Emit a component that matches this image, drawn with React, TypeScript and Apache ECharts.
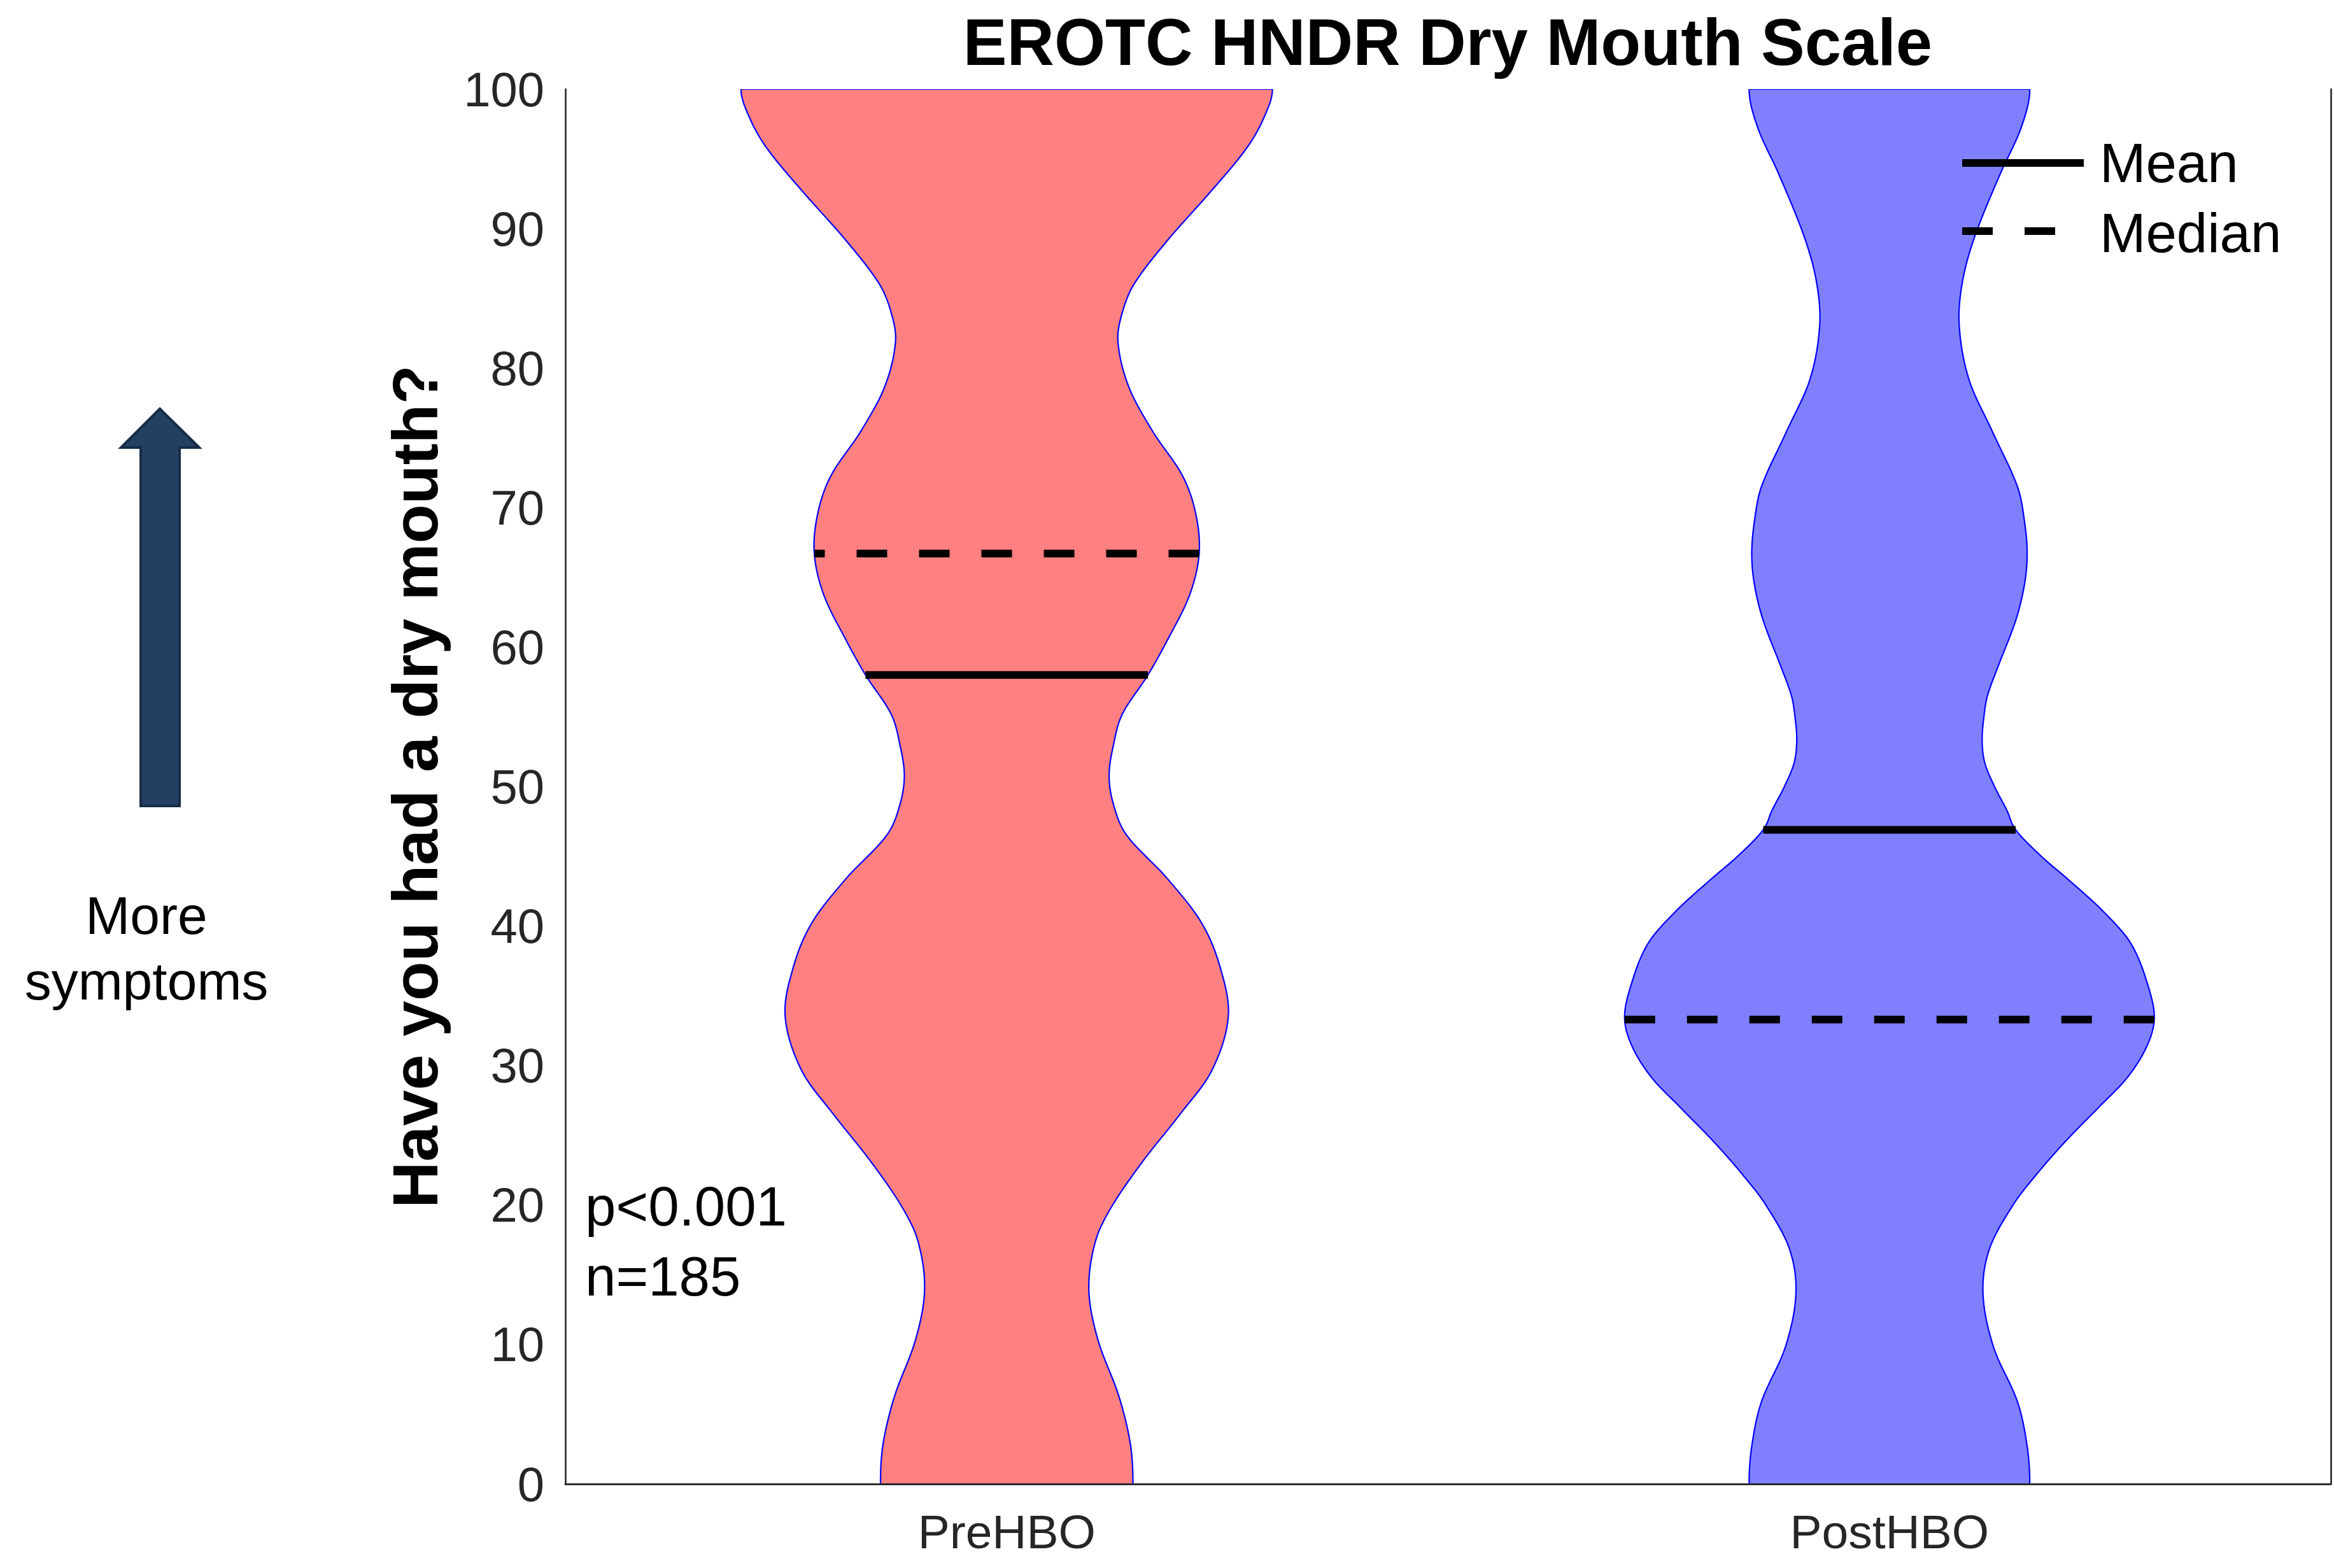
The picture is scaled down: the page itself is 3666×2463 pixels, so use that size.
import React, { useEffect, useRef } from 'react';
import * as echarts from 'echarts';

// Categories on the x axis
const categories = ['PreHBO', 'PostHBO'];

// Violin outlines: score (y) and half-width in units of category spacing
const preY = [0, 2.9, 6.3, 10.4, 14.0, 17.5, 20.0, 23.2, 26.4, 29.6, 33.5, 37.0, 40.2, 43.4, 46.5, 48.7, 50.8, 53.0, 55.2, 58.0, 60.5, 63.7, 66.7, 69.6, 72.3, 75.5, 78.7, 81.9, 84.0, 86.1, 89.3, 92.5, 95.7, 97.9, 100];
const preHalfWidth = [0.143, 0.140, 0.127, 0.103, 0.093, 0.101, 0.120, 0.155, 0.195, 0.232, 0.251, 0.242, 0.221, 0.182, 0.136, 0.121, 0.116, 0.121, 0.131, 0.160, 0.182, 0.207, 0.218, 0.214, 0.199, 0.165, 0.138, 0.126, 0.131, 0.145, 0.184, 0.229, 0.271, 0.291, 0.301];
const postY = [0, 2.7, 5.9, 9.8, 13.6, 16.8, 20.0, 22.3, 24.6, 27.0, 29.1, 31.3, 33.3, 35.5, 38.7, 41.0, 43.2, 45.0, 46.9, 48.3, 50.0, 51.7, 53.3, 55.0, 56.5, 58.6, 61.9, 64.5, 66.7, 69.0, 71.5, 75.4, 79.2, 83.1, 86.3, 89.5, 94.0, 97.2, 100];
const postHalfWidth = [0.159, 0.156, 0.145, 0.118, 0.106, 0.113, 0.140, 0.168, 0.200, 0.237, 0.269, 0.291, 0.300, 0.294, 0.274, 0.243, 0.205, 0.172, 0.143, 0.133, 0.119, 0.108, 0.105, 0.107, 0.111, 0.123, 0.143, 0.153, 0.156, 0.153, 0.145, 0.117, 0.090, 0.079, 0.083, 0.097, 0.126, 0.149, 0.159];

// Summary statistics per group
const means = [58.0, 46.9];
const medians = [66.7, 33.3];
const meanHalfWidth = [0.160, 0.143];
const medianHalfWidth = [0.218, 0.300];

const fills = ['#ff8080', '#8080ff'];
const profiles = [
  { ys: preY, hw: preHalfWidth },
  { ys: postY, hw: postHalfWidth },
];

const FONT = '"Liberation Sans", Arial, Helvetica, sans-serif';
const AXIS_COLOR = '#262626';

// Cubic Hermite (Catmull-Rom style) curve through the outline points so the
// drawn edge is smooth; the outline is vertical where it meets the axes.
function smoothOutline(ys: number[], ws: number[], steps: number): [number, number][] {
  const n = ys.length;
  const m: number[] = new Array(n).fill(0);
  for (let k = 1; k < n - 1; k++) {
    m[k] = (ws[k + 1] - ws[k - 1]) / (ys[k + 1] - ys[k - 1]);
  }
  const out: [number, number][] = [];
  for (let k = 0; k < n - 1; k++) {
    const h = ys[k + 1] - ys[k];
    for (let s = 0; s < steps; s++) {
      const t = s / steps;
      const t2 = t * t;
      const t3 = t2 * t;
      const w =
        (2 * t3 - 3 * t2 + 1) * ws[k] +
        (t3 - 2 * t2 + t) * h * m[k] +
        (-2 * t3 + 3 * t2) * ws[k + 1] +
        (t3 - t2) * h * m[k + 1];
      out.push([ys[k] + t * h, w]);
    }
  }
  out.push([ys[n - 1], ws[n - 1]]);
  return out;
}

const makeRenderer = (idx: number) => (params: any, api: any) => {
  const band = api.size([1, 0])[0];
  const cx = api.coord([idx, 0])[0];
  const { ys, hw } = profiles[idx];
  const curve = smoothOutline(ys, hw, 10);
  const left = curve.map(([y, w]) => [cx - w * band, api.coord([idx, y])[1]]);
  const right = curve.map(([y, w]) => [cx + w * band, api.coord([idx, y])[1]]).reverse();
  const meanPx = api.coord([idx, means[idx]])[1];
  const medianPx = api.coord([idx, medians[idx]])[1];
  const mhw = meanHalfWidth[idx] * band;
  const dhw = medianHalfWidth[idx] * band;
  return {
    type: 'group',
    children: [
      {
        type: 'polygon',
        shape: { points: left.concat(right) },
        style: { fill: fills[idx], stroke: '#0000ff', lineWidth: 2.2 },
      },
      {
        type: 'line',
        shape: { x1: cx + dhw, y1: medianPx, x2: cx - dhw, y2: medianPx },
        style: { stroke: '#000000', lineWidth: 12, lineDash: [48, 50] },
      },
      {
        type: 'line',
        shape: { x1: cx - mhw, y1: meanPx, x2: cx + mhw, y2: meanPx },
        style: { stroke: '#000000', lineWidth: 12 },
      },
    ],
  };
};

const textStyle = (text: string, size: number, align: string, weight = 'normal', fill = '#000000') => ({
  text,
  fill,
  fontSize: size,
  fontFamily: FONT,
  fontWeight: weight,
  align,
  verticalAlign: 'middle',
  textAlign: align,
  textVerticalAlign: 'middle',
});

const hiddenAxisParts = {
  axisTick: { show: false },
  axisLabel: { show: false },
  splitLine: { show: false },
};

const option: any = {
  animation: false,
  backgroundColor: '#ffffff',
  title: {
    text: 'EROTC HNDR Dry Mouth Scale',
    left: 2274,
    top: 15,
    padding: 0,
    textAlign: 'center',
    textStyle: { fontSize: 103, fontWeight: 'bold', fontFamily: FONT, color: '#000000' },
  },
  grid: { left: 888, right: 5, top: 140, bottom: 132, show: false },
  xAxis: [
    {
      type: 'category',
      data: categories,
      position: 'bottom',
      z: 3,
      axisLine: { show: true, lineStyle: { color: AXIS_COLOR, width: 2.6 } },
      axisTick: { show: false },
      splitLine: { show: false },
      axisLabel: { fontSize: 75, fontFamily: FONT, color: AXIS_COLOR, margin: 37 },
    },
    {
      type: 'category',
      data: categories,
      position: 'top',
      z: 3,
      axisLine: { show: true, lineStyle: { color: AXIS_COLOR, width: 2.6 } },
      ...hiddenAxisParts,
    },
  ],
  yAxis: [
    {
      type: 'value',
      min: 0,
      max: 100,
      interval: 10,
      position: 'left',
      z: 3,
      name: 'Have you had a dry mouth?',
      nameLocation: 'middle',
      nameGap: 186,
      nameTextStyle: { fontSize: 101, fontWeight: 'bold', fontFamily: FONT, color: '#000000' },
      axisLine: { show: true, lineStyle: { color: AXIS_COLOR, width: 2.6 } },
      axisTick: { show: false },
      splitLine: { show: false },
      axisLabel: { fontSize: 76, fontFamily: FONT, color: AXIS_COLOR, margin: 33 },
    },
    {
      type: 'value',
      min: 0,
      max: 100,
      interval: 10,
      position: 'right',
      z: 3,
      axisLine: { show: true, lineStyle: { color: AXIS_COLOR, width: 2.6 } },
      ...hiddenAxisParts,
    },
  ],
  series: categories.map((name, idx) => ({
    type: 'custom',
    name,
    coordinateSystem: 'cartesian2d',
    xAxisIndex: 0,
    yAxisIndex: 0,
    clip: true,
    z: 2,
    data: [[idx, means[idx]]],
    encode: { x: 0, y: 1 },
    renderItem: makeRenderer(idx),
  })),
  graphic: [
    // "More symptoms" arrow
    {
      type: 'polygon',
      z: 10,
      shape: {
        points: [
          [251, 642], [313, 703], [282, 703], [282, 1266],
          [221, 1266], [221, 703], [190, 703],
        ],
      },
      style: { fill: '#243f60', stroke: '#172d47', lineWidth: 4 },
    },
    { type: 'text', z: 10, x: 230, y: 1438, style: textStyle('More', 84, 'center') },
    { type: 'text', z: 10, x: 230, y: 1541, style: textStyle('symptoms', 84, 'center') },
    // statistics annotation
    { type: 'text', z: 10, x: 919, y: 1894, style: textStyle('p<0.001', 87, 'left') },
    { type: 'text', z: 10, x: 919, y: 2004, style: textStyle('n=185', 87, 'left') },
    // legend, drawn above the violins
    {
      type: 'line',
      z: 10,
      shape: { x1: 3082, y1: 256, x2: 3273, y2: 256 },
      style: { stroke: '#000000', lineWidth: 12 },
    },
    {
      type: 'line',
      z: 10,
      shape: { x1: 3082, y1: 363, x2: 3273, y2: 363 },
      style: { stroke: '#000000', lineWidth: 12, lineDash: [48, 50] },
    },
    { type: 'text', z: 10, x: 3298, y: 255, style: textStyle('Mean', 87, 'left') },
    { type: 'text', z: 10, x: 3298, y: 365, style: textStyle('Median', 87, 'left') },
  ],
};

export default function App() {
  const ref = useRef<HTMLDivElement>(null);
  useEffect(() => {
    if (!ref.current) return;
    const chart = echarts.init(ref.current, null, { renderer: 'svg' });
    chart.setOption(option);
    return () => chart.dispose();
  }, []);
  return (
    <div
      ref={ref}
      style={{ position: 'fixed', left: 0, top: 0, width: 3666, height: 2463, background: '#ffffff' }}
    />
  );
}
